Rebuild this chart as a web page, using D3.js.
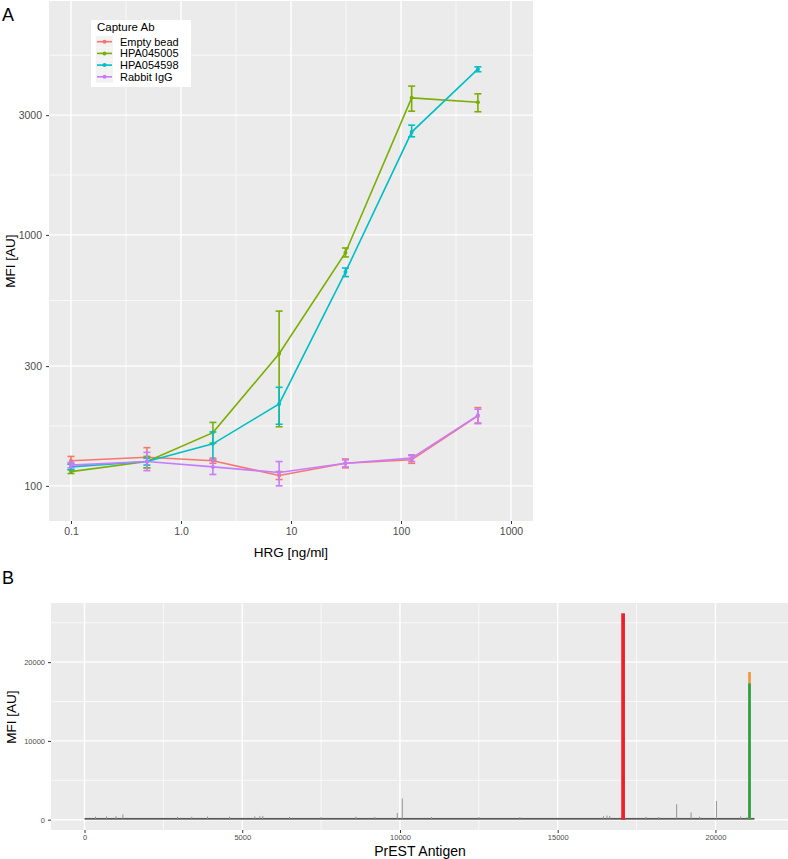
<!DOCTYPE html>
<html>
<head>
<meta charset="utf-8">
<script src="https://cdn.jsdelivr.net/npm/d3@7"></script>
<style>
  body { margin: 0; background: #fff; }
  svg { display: block; font-family: "Liberation Sans", Arial, sans-serif; }
  .axis path { display: none; }
  .axis line { stroke: #333; }
  .axis text { fill: #4d4d4d; }
</style>
</head>
<body>
<script>
// ---- panel A data : MFI vs HRG concentration
var hrgConc = [0.1, 0.49, 1.95, 7.8, 31.25, 125, 500];
var captureAbs = ["Empty bead", "HPA045005", "HPA054598", "Rabbit IgG"];
var abColors = ["#F8766D", "#7CAE00", "#00BFC4", "#C77CFF"];

var emptyBeadMFI  = [126, 130, 126, 110, 123, 127, 190];
var emptyBeadLow  = [122, 118, 123, 106, 118, 123, 178];
var emptyBeadHigh = [131, 142, 129, 114, 128, 132, 205];

var hpa045005MFI  = [114, 125, 163, 336, 849, 3517, 3377];
var hpa045005Low  = [112, 118, 148, 172, 817, 3112, 3096];
var hpa045005High = [116, 131, 179, 497, 887, 3917, 3648];

var hpa054598MFI  = [119, 125, 147, 212, 711, 2569, 4574];
var hpa054598Low  = [116, 121, 127, 176, 682, 2460, 4468];
var hpa054598High = [122, 129, 164, 247, 738, 2737, 4673];

var rabbitIgGMFI  = [121, 125, 119, 113, 123, 129, 191];
var rabbitIgGLow  = [118, 115, 111, 100, 119, 125, 177];
var rabbitIgGHigh = [124, 136, 127, 125, 127, 133, 202];

var xTicksA = [0.1, 1, 10, 100, 1000];
var xTickLabelsA = ["0.1", "1.0", "10", "100", "1000"];
var yTicksA = [100, 300, 1000, 3000];

// ---- panel B data : protein array screen
var antigenCount = 21238;
var backgroundMFI = 220;
var spikeAntigen = [350, 700, 1000, 1216, 2950, 3400, 3900, 4600, 5400, 5556, 5650, 6500, 7500, 8600, 9200,
                    9914, 10073, 11000, 12500, 13800, 16450, 16562, 16650, 17800, 18200, 18771, 19228, 19500,
                    20032, 20800, 21000];
var spikeMFI = [380, 420, 450, 660, 360, 380, 400, 380, 420, 440, 480, 350, 330, 380, 350,
                860, 2690, 330, 340, 330, 450, 530, 480, 360, 340, 1970, 910, 380,
                2390, 420, 330];
var hitAntigen = [17073, 21080, 21080];
var hitMFI = [26200, 18740, 17300];
var hitColors = ["#EE1F2B", "#F7923A", "#23A54A"];

var xTicksB = [0, 5000, 10000, 15000, 20000];
var xMinorB = [2500, 7500, 12500, 17500];
var yTicksB = [0, 10000, 20000];
var yMinorB = [5000, 15000, 25000];

var seriesMFI = [emptyBeadMFI, hpa045005MFI, hpa054598MFI, rabbitIgGMFI];
var seriesLow = [emptyBeadLow, hpa045005Low, hpa054598Low, rabbitIgGLow];
var seriesHigh = [emptyBeadHigh, hpa045005High, hpa054598High, rabbitIgGHigh];

var svg = d3.select("body").append("svg")
  .attr("width", 788)
  .attr("height", 859);

// ================= Panel A
var pa = { left: 49, right: 533, top: 1, bottom: 521 };

var xA = d3.scaleLog().domain([Math.pow(10, -1.2), Math.pow(10, 3.2)]).range([pa.left, pa.right]);
var yA = d3.scaleLog().domain([Math.pow(10, 1.86), Math.pow(10, 3.932)]).range([pa.bottom, pa.top]);

var gA = svg.append("g");
gA.append("rect")
  .attr("x", pa.left).attr("y", pa.top)
  .attr("width", pa.right - pa.left).attr("height", pa.bottom - pa.top)
  .attr("fill", "#EBEBEB");

// minor grid at midpoints (log space)
var xMinorA = [-0.5, 0.5, 1.5, 2.5].map(function(v){ return Math.pow(10, v); });
var yMinorA = [1.761, 2.2386, 2.7386, 3.2386, 3.716].map(function(v){ return Math.pow(10, v); })
  .filter(function(v){ return yA(v) > pa.top && yA(v) < pa.bottom; });

gA.selectAll(".vminor").data(xMinorA).enter().append("line")
  .attr("x1", function(d){ return xA(d); }).attr("x2", function(d){ return xA(d); })
  .attr("y1", pa.top).attr("y2", pa.bottom)
  .attr("stroke", "#fff").attr("stroke-width", 0.7);
gA.selectAll(".hminor").data(yMinorA).enter().append("line")
  .attr("y1", function(d){ return yA(d); }).attr("y2", function(d){ return yA(d); })
  .attr("x1", pa.left).attr("x2", pa.right)
  .attr("stroke", "#fff").attr("stroke-width", 0.7);
gA.selectAll(".vmajor").data(xTicksA).enter().append("line")
  .attr("x1", function(d){ return xA(d); }).attr("x2", function(d){ return xA(d); })
  .attr("y1", pa.top).attr("y2", pa.bottom)
  .attr("stroke", "#fff").attr("stroke-width", 1.4);
gA.selectAll(".hmajor").data(yTicksA).enter().append("line")
  .attr("y1", function(d){ return yA(d); }).attr("y2", function(d){ return yA(d); })
  .attr("x1", pa.left).attr("x2", pa.right)
  .attr("stroke", "#fff").attr("stroke-width", 1.4);

var xAxisA = d3.axisBottom(xA).tickValues(xTicksA).tickSize(3).tickPadding(4)
  .tickFormat(function(d, i){ return xTickLabelsA[i]; });
gA.append("g").attr("class", "axis")
  .attr("transform", "translate(0," + pa.bottom + ")")
  .call(xAxisA)
  .selectAll("text").style("font-size", "10.5px");

var yAxisA = d3.axisLeft(yA).tickValues(yTicksA).tickSize(3).tickPadding(4)
  .tickFormat(d3.format("d"));
gA.append("g").attr("class", "axis")
  .attr("transform", "translate(" + pa.left + ",0)")
  .call(yAxisA)
  .selectAll("text").style("font-size", "10.5px");

// series
var line = d3.line()
  .x(function(d){ return xA(d.x); })
  .y(function(d){ return yA(d.y); });

var capHalf = 3.5;
captureAbs.forEach(function(name, s) {
  var pts = hrgConc.map(function(x, i){
    return { x: x, y: seriesMFI[s][i], lo: seriesLow[s][i], hi: seriesHigh[s][i] };
  });
  var g = gA.append("g").attr("stroke", abColors[s]).attr("fill", abColors[s]);
  g.append("path").datum(pts).attr("d", line)
    .attr("fill", "none").attr("stroke-width", 1.6);
  var eb = g.selectAll(".eb").data(pts).enter().append("g");
  eb.append("line")
    .attr("x1", function(d){ return xA(d.x); }).attr("x2", function(d){ return xA(d.x); })
    .attr("y1", function(d){ return yA(d.lo); }).attr("y2", function(d){ return yA(d.hi); })
    .attr("stroke-width", 1.6);
  eb.append("line")
    .attr("x1", function(d){ return xA(d.x) - capHalf; }).attr("x2", function(d){ return xA(d.x) + capHalf; })
    .attr("y1", function(d){ return yA(d.lo); }).attr("y2", function(d){ return yA(d.lo); })
    .attr("stroke-width", 1.6);
  eb.append("line")
    .attr("x1", function(d){ return xA(d.x) - capHalf; }).attr("x2", function(d){ return xA(d.x) + capHalf; })
    .attr("y1", function(d){ return yA(d.hi); }).attr("y2", function(d){ return yA(d.hi); })
    .attr("stroke-width", 1.6);
  g.selectAll("circle").data(pts).enter().append("circle")
    .attr("cx", function(d){ return xA(d.x); })
    .attr("cy", function(d){ return yA(d.y); })
    .attr("r", 2).attr("stroke", "none");
});

// legend
var lg = gA.append("g").attr("transform", "translate(91,20)");
lg.append("rect").attr("width", 100).attr("height", 67).attr("fill", "#fff");
lg.append("text").attr("x", 6).attr("y", 10.5).style("font-size", "11.5px").attr("fill", "#000").text("Capture Ab");
captureAbs.forEach(function(name, i) {
  var cy = 21.7 + i * 11.7;
  lg.append("rect").attr("x", 5).attr("y", cy - 5.8).attr("width", 17).attr("height", 11.6).attr("fill", "#F2F2F2");
  lg.append("line").attr("x1", 6).attr("x2", 21).attr("y1", cy).attr("y2", cy)
    .attr("stroke", abColors[i]).attr("stroke-width", 1.6);
  lg.append("circle").attr("cx", 13.5).attr("cy", cy).attr("r", 2).attr("fill", abColors[i]);
  lg.append("text").attr("x", 29).attr("y", cy + 4).style("font-size", "11px").attr("fill", "#000").text(name);
});

svg.append("text").attr("x", 291).attr("y", 557).attr("text-anchor", "middle")
  .style("font-size", "13.5px").text("HRG [ng/ml]");
svg.append("text").attr("transform", "translate(15,261) rotate(-90)").attr("text-anchor", "middle")
  .style("font-size", "13.5px").text("MFI [AU]");
svg.append("text").attr("x", 2).attr("y", 21).style("font-size", "18px").text("A");

// ================= Panel B
var pb = { left: 51, right: 788, top: 603, bottom: 830 };
var xB = d3.scaleLinear().domain([-1062, 22300]).range([pb.left, pb.right]);
var yB = d3.scaleLinear().domain([-1310, 27510]).range([pb.bottom, pb.top]);

var gB = svg.append("g");
gB.append("rect")
  .attr("x", pb.left).attr("y", pb.top)
  .attr("width", pb.right - pb.left).attr("height", pb.bottom - pb.top)
  .attr("fill", "#EBEBEB");

gB.selectAll(".vminor").data(xMinorB).enter().append("line")
  .attr("x1", function(d){ return xB(d); }).attr("x2", function(d){ return xB(d); })
  .attr("y1", pb.top).attr("y2", pb.bottom)
  .attr("stroke", "#fff").attr("stroke-width", 0.7);
gB.selectAll(".hminor").data(yMinorB).enter().append("line")
  .attr("y1", function(d){ return yB(d); }).attr("y2", function(d){ return yB(d); })
  .attr("x1", pb.left).attr("x2", pb.right)
  .attr("stroke", "#fff").attr("stroke-width", 0.7);
gB.selectAll(".vmajor").data(xTicksB).enter().append("line")
  .attr("x1", function(d){ return xB(d); }).attr("x2", function(d){ return xB(d); })
  .attr("y1", pb.top).attr("y2", pb.bottom)
  .attr("stroke", "#fff").attr("stroke-width", 1.4);
gB.selectAll(".hmajor").data(yTicksB).enter().append("line")
  .attr("y1", function(d){ return yB(d); }).attr("y2", function(d){ return yB(d); })
  .attr("x1", pb.left).attr("x2", pb.right)
  .attr("stroke", "#fff").attr("stroke-width", 1.4);

// background bars (dense low signal)
gB.append("rect")
  .attr("x", xB(0)).attr("width", xB(antigenCount) - xB(0))
  .attr("y", yB(backgroundMFI)).attr("height", yB(0) - yB(backgroundMFI))
  .attr("fill", "#595959");

gB.selectAll(".spike").data(spikeAntigen).enter().append("line")
  .attr("x1", function(d){ return xB(d); }).attr("x2", function(d){ return xB(d); })
  .attr("y1", yB(0)).attr("y2", function(d, i){ return yB(spikeMFI[i]); })
  .attr("stroke", "#8a8a8a").attr("stroke-width", 0.9);

var hitWidths = [3.7, 2.6, 2.6];
gB.selectAll(".hit").data(hitAntigen).enter().append("rect")
  .attr("x", function(d, i){ return xB(d) - hitWidths[i] / 2; })
  .attr("width", function(d, i){ return hitWidths[i]; })
  .attr("y", function(d, i){ return yB(hitMFI[i]); })
  .attr("height", function(d, i){ return yB(0) - yB(hitMFI[i]); })
  .attr("fill", function(d, i){ return hitColors[i]; });

var xAxisB = d3.axisBottom(xB).tickValues(xTicksB).tickSize(3).tickPadding(2).tickFormat(d3.format("d"));
gB.append("g").attr("class", "axis")
  .attr("transform", "translate(0," + pb.bottom + ")")
  .call(xAxisB)
  .selectAll("text").style("font-size", "7.5px");

var yAxisB = d3.axisLeft(yB).tickValues(yTicksB).tickSize(3).tickPadding(3).tickFormat(d3.format("d"));
gB.append("g").attr("class", "axis")
  .attr("transform", "translate(" + pb.left + ",0)")
  .call(yAxisB)
  .selectAll("text").style("font-size", "7.5px");

svg.append("text").attr("x", 420).attr("y", 856).attr("text-anchor", "middle")
  .style("font-size", "14px").text("PrEST Antigen");
svg.append("text").attr("transform", "translate(16,717) rotate(-90)").attr("text-anchor", "middle")
  .style("font-size", "13.5px").text("MFI [AU]");
svg.append("text").attr("x", 2).attr("y", 584).style("font-size", "18px").text("B");
</script>
</body>
</html>
